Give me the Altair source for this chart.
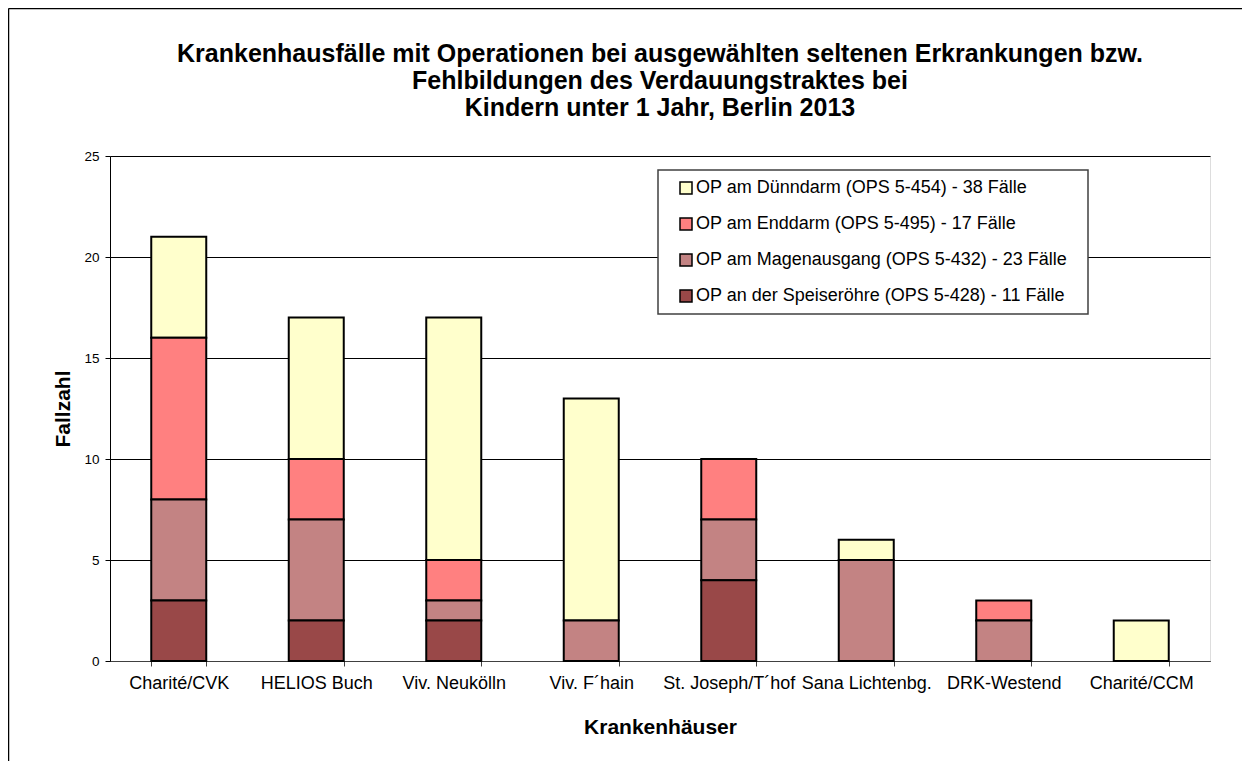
import altair as alt
import pandas as pd

hospitals = ["Charité/CVK", "HELIOS Buch", "Viv. Neukölln", "Viv. F´hain",
             "St. Joseph/T´hof", "Sana Lichtenbg.", "DRK-Westend", "Charité/CCM"]
series = ["OP am Dünndarm (OPS 5-454) - 38 Fälle",
          "OP am Enddarm (OPS 5-495) - 17 Fälle",
          "OP am Magenausgang (OPS 5-432) - 23 Fälle",
          "OP an der Speiseröhre (OPS 5-428) - 11 Fälle"]
duenndarm = [5, 7, 12, 11, 0, 1, 0, 2]
enddarm = [8, 3, 2, 0, 3, 0, 1, 0]
magenausgang = [5, 5, 1, 2, 3, 5, 2, 0]
speiseroehre = [3, 2, 2, 0, 4, 0, 0, 0]
colors = ["#FFFFCC", "#FF8080", "#C38383", "#994848"]

rows = []
for s_i, (name, vals) in enumerate(zip(series, [duenndarm, enddarm, magenausgang, speiseroehre])):
    for h, v in zip(hospitals, vals):
        if v > 0:
            rows.append({"Krankenhaus": h, "Serie": name, "Wert": v, "ord": 3 - s_i})
df = pd.DataFrame(rows)

FONT = "Liberation Sans"
one = pd.DataFrame({"a": [0]})

# outer chart frame (decoration): top and left edges only, kept inside the canvas
frame_top = alt.Chart(one).mark_rule(color="black", strokeWidth=1.5).encode(
    x=alt.value(-101.5), x2=alt.value(1132), y=alt.value(-147.5))
frame_left = alt.Chart(one).mark_rule(color="black", strokeWidth=1.5).encode(
    x=alt.value(-101.5), y=alt.value(-147.5), y2=alt.value(605))

# legend box (decoration)
legend_box = alt.Chart(one).mark_rect(
    fill="white", stroke="#404040", strokeWidth=1.5
).encode(x=alt.value(548), x2=alt.value(978), y=alt.value(14), y2=alt.value(158))

bars = alt.Chart(df).mark_bar(stroke="black", strokeWidth=2).encode(
    x=alt.X("Krankenhaus:N", sort=hospitals, title="Krankenhäuser",
            scale=alt.Scale(paddingInner=0.6, paddingOuter=0.3),
            axis=alt.Axis(labelAngle=0, tickBand="extent", labelFontSize=18,
                          labelFont=FONT, labelColor="black", labelPadding=8,
                          tickColor="#404040", domainColor="#404040", tickSize=5,
                          labelOverlap=False,
                          titleFont=FONT, titleFontSize=21, titleFontWeight="bold",
                          titleColor="black", titlePadding=24, grid=False)),
    y=alt.Y("Wert:Q", stack="zero", title="Fallzahl",
            scale=alt.Scale(domain=[0, 25]),
            axis=alt.Axis(values=[0, 5, 10, 15, 20, 25], labelFontSize=13.5,
                          labelFont=FONT, labelColor="black", tickSize=5,
                          labelPadding=6,
                          tickColor="black", domainColor="black", gridColor="black",
                          gridOpacity=1, gridWidth=1, titleFont=FONT, titleFontSize=21,
                          titleFontWeight="bold", titleColor="black", titlePadding=10)),
    color=alt.Color("Serie:N", sort=series,
                    scale=alt.Scale(domain=series, range=colors),
                    legend=alt.Legend(title=None, orient="none", legendX=548, legendY=14,
                                      padding=9, rowPadding=18, symbolType="square",
                                      symbolSize=144, symbolStrokeColor="black",
                                      symbolStrokeWidth=1.5, symbolOpacity=1,
                                      labelFont=FONT, labelFontSize=18, labelColor="black",
                                      labelLimit=500, symbolOffset=10, labelOffset=1)),
    order=alt.Order("ord:Q", sort="ascending"),
)

chart = alt.layer(frame_top, frame_left, legend_box, bars).properties(
    width=1100, height=505,
    title=alt.TitleParams(
        ["Krankenhausfälle mit Operationen bei ausgewählten seltenen Erkrankungen bzw.",
         "Fehlbildungen des Verdauungstraktes bei",
         "Kindern unter 1 Jahr, Berlin 2013"],
        font=FONT, fontSize=25, fontWeight="bold", color="black",
        anchor="middle", frame="group", lineHeight=27, offset=0, dy=113),
    autosize=alt.AutoSizeParams(type="none"),
    padding={"left": 102, "top": 148, "right": 32, "bottom": 100},
).configure_view(fill="#C0C0C0", stroke="#808080", strokeWidth=2
).configure(background="white")

chart.save("out.html", embed_options={"renderer": "svg", "actions": False})
